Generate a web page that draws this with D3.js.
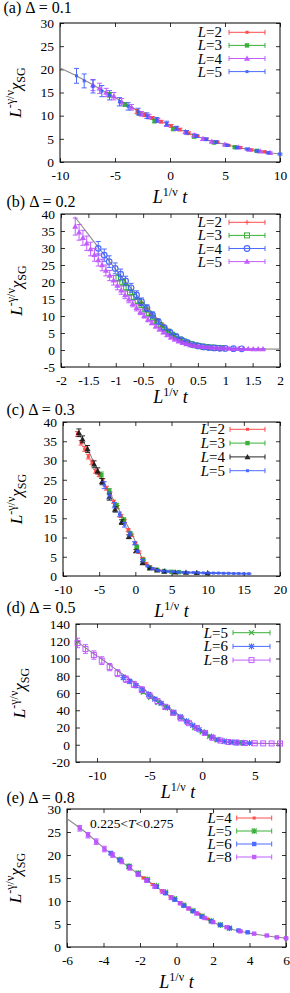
<!DOCTYPE html>
<html>
<head>
<meta charset="utf-8">
<script src="https://cdn.jsdelivr.net/npm/d3@7"></script>
<style>
  body { margin: 0; background: #fff; }
  svg { display: block; }
  svg text { font-family: "Liberation Serif", "DejaVu Serif", "Times New Roman", Times, serif; fill: #000; }
</style>
</head>
<body>
<script>
// ---- panel (a) Delta = 0.1 : [x, y, err] ----
var aCurve = [[-10,20.3],[-8.75,18.9],[-7.5,17.3],[-6.25,15.6],[-5,13.9],[-3.75,12.2],[-2.5,10.6],[-1.25,9.2],[0,8.0],[1.25,6.7],[2.5,5.5],[3.75,4.5],[5,3.8],[6.25,3.1],[7.5,2.6],[8.75,2.1],[10,1.7]];
var aL2 = [[-3.0,10.9,0.4],[-2.3,10.2,0.4],[-1.6,9.5,0.3],[-0.8,8.7,0.3],[0.1,7.8,0.3],[0.9,7.0,0.3],[1.7,6.2,0.3],[2.5,5.6,0.2],[3.3,4.9,0.2],[4.3,4.3,0.2],[5.3,3.6,0.2],[6.4,3.1,0.2],[7.4,2.6,0.2],[8.6,2.2,0.2]];
var aL3 = [[-5.5,14.5,0.5],[-4.1,12.4,0.4],[-2.8,10.5,0.4],[-1.4,8.8,0.3],[0.3,7.1,0.3],[2.2,5.5,0.3],[4.0,4.2,0.2],[5.9,3.2,0.2],[7.9,2.4,0.2]];
var aL4 = [[-7.0,16.6,1.2],[-6.4,15.9,1.1],[-5.8,15.0,0.9],[-5.1,14.2,0.8],[-4.4,13.0,0.7],[-3.5,11.8,0.6],[-2.6,10.4,0.5],[-1.9,9.8,0.5],[-1.1,9.0,0.4],[-0.3,8.1,0.4],[0.6,7.2,0.4],[1.4,6.5,0.3],[2.2,5.8,0.3],[3.0,5.0,0.3],[3.8,4.4,0.2],[5.0,3.8,0.2],[6.2,3.2,0.2],[7.2,2.7,0.2],[8.2,2.3,0.2],[9.1,2.0,0.2]];
var aL5 = [[-8.5,18.6,1.6],[-7.8,17.5,1.5],[-7.0,16.3,1.4],[-6.2,15.3,1.2],[-5.5,14.4,1.0],[-4.6,13.0,0.9],[-3.8,12.0,0.8],[-2.9,10.9,0.7],[-2.1,10.0,0.6],[-1.2,9.1,0.5],[-0.3,8.3,0.5],[0.6,7.3,0.4],[1.5,6.4,0.4],[2.4,5.6,0.3],[3.3,4.9,0.3],[4.2,4.3,0.3],[5.2,3.6,0.2],[6.1,3.1,0.2],[7.0,2.8,0.2],[7.9,2.4,0.2],[8.9,2.0,0.2],[10.0,1.7,0.2]];
var aXTicks = [-10,-5,0,5,10];
var aYTicks = [0,5,10,15,20,25,30];

// ---- panel (b) Delta = 0.2 ----
var bCurve = [[-1.75,39.2],[-1.5,34.0],[-1.25,28.8],[-1.0,23.7],[-0.75,18.7],[-0.5,14.0],[-0.25,9.3],[0,5.2],[0.25,2.5],[0.5,1.2],[0.75,0.7],[1.0,0.45],[1.5,0.3],[2.0,0.25]];
var bL2 = [[-0.55,13.6,0.4],[-0.45,12.0,0.4],[-0.35,10.4,0.3],[-0.25,8.8,0.3],[-0.15,7.3,0.3],[-0.05,5.9,0.2],[0.05,4.6,0.2],[0.15,3.5,0.2],[0.25,2.6,0.2],[0.35,1.9,0.1],[0.45,1.4,0.1]];
var bL3 = [[-0.95,21.2,0.9],[-0.88,19.9,0.8],[-0.81,18.4,0.8],[-0.74,16.9,0.7],[-0.67,15.6,0.7],[-0.60,14.4,0.6],[-0.53,13.2,0.6],[-0.46,11.9,0.5],[-0.39,10.7,0.5],[-0.32,9.5,0.4],[-0.25,8.4,0.4],[-0.18,7.3,0.3],[-0.11,6.3,0.3],[-0.04,5.4,0.3],[0.03,4.5,0.2],[0.10,3.8,0.2],[0.17,3.1,0.2],[0.24,2.6,0.2],[0.31,2.1,0.2],[0.38,1.7,0.1],[0.45,1.4,0.1],[0.52,1.2,0.1],[0.59,1.0,0.1],[0.66,0.85,0.1],[0.73,0.75,0.1],[0.80,0.65,0.1],[0.87,0.6,0.1],[0.94,0.55,0.1]];
var bL4 = [[-1.32,29.9,2.0],[-1.21,27.9,1.8],[-1.12,26.0,1.7],[-1.01,24.0,1.6],[-0.91,22.3,1.5],[-0.82,20.3,1.4],[-0.72,18.3,1.3],[-0.62,16.2,1.2],[-0.53,14.2,1.1],[-0.43,12.3,1.0],[-0.33,10.3,0.9],[-0.22,8.3,0.8],[-0.12,6.6,0.7],[-0.01,5.2,0.6],[0.1,4.0,0.5],[0.2,3.0,0.4],[0.3,2.2,0.3],[0.4,1.6,0.3],[0.5,1.2,0.2],[0.6,0.9,0.2],[0.7,0.7,0.2],[0.8,0.6,0.1],[0.9,0.5,0.1],[1.0,0.45,0.1],[1.15,0.4,0.1],[1.3,0.35,0.1]];
var bL5 = [[-1.74,36.3,2.5],[-1.67,34.6,2.3],[-1.60,33.0,2.2],[-1.53,31.4,2.1],[-1.46,29.7,2.0],[-1.39,28.0,1.9],[-1.32,26.5,1.8],[-1.25,25.0,1.7],[-1.18,23.4,1.6],[-1.11,21.9,1.5],[-1.04,20.5,1.4],[-0.97,19.0,1.3],[-0.90,17.6,1.2],[-0.83,16.2,1.1],[-0.76,14.9,1.0],[-0.69,13.6,0.9],[-0.62,12.4,0.9],[-0.55,11.2,0.8],[-0.48,10.1,0.7],[-0.41,9.0,0.7],[-0.34,8.0,0.6],[-0.27,7.0,0.5],[-0.20,6.1,0.5],[-0.13,5.2,0.4],[-0.06,4.4,0.4],[0.01,3.7,0.3],[0.08,3.1,0.3],[0.15,2.6,0.3],[0.22,2.1,0.2],[0.29,1.8,0.2],[0.36,1.5,0.2],[0.43,1.3,0.2],[0.50,1.1,0.2],[0.57,1.0,0.2],[0.64,0.9,0.1],[0.71,0.8,0.1],[0.78,0.7,0.1],[0.85,0.6,0.1],[0.92,0.55,0.1],[0.99,0.5,0.1],[1.07,0.45,0.1],[1.15,0.4,0.1],[1.24,0.4,0.1],[1.33,0.35,0.1],[1.42,0.35,0.1],[1.51,0.3,0.1],[1.60,0.3,0.1],[1.69,0.3,0.1]];
var bXTicks = [-2,-1.5,-1,-0.5,0,0.5,1,1.5,2];
var bYTicks = [-5,0,5,10,15,20,25,30,35,40];

// ---- panel (c) Delta = 0.3 ----
var cCurve = [[-8,37.6],[-7,34.3],[-6,30.6],[-5,26.8],[-4,23.1],[-3,19.7],[-2,16.3],[-1,12.8],[0,9.0],[0.5,6.5],[1,4.4],[1.5,3.1],[2,2.3],[3,1.6],[4,1.3],[6,1.0],[10,0.8],[15.8,0.6]];
var cL2 = [[-8.0,36.9,0.6],[-7.5,34.6,0.6],[-7.0,33.0,0.6],[-6.5,31.0,0.6],[-6.0,29.5,0.6],[-5.5,27.2,0.5],[-5.0,26.3,0.5],[-4.5,24.8,0.5],[-4.0,22.8,0.5],[-3.5,21.3,0.5],[-3.0,19.3,0.4],[-2.5,17.9,0.4],[-2.0,15.6,0.4],[-1.5,14.2,0.4],[-1.0,11.9,0.4],[-0.5,10.6,0.3],[0.0,8.5,0.3],[0.5,6.2,0.3],[1.0,4.6,0.2],[1.5,3.2,0.2],[2.0,2.4,0.2],[2.6,1.8,0.1],[3.2,1.5,0.1]];
var cL3 = [[-4.7,26.2,0.8],[-3.6,22.0,0.7],[-2.6,18.3,0.6],[-1.6,14.6,0.5],[-0.7,11.0,0.4],[0.2,7.6,0.3],[1.1,4.2,0.2],[2.0,2.2,0.2],[3.0,1.6,0.1],[4.0,1.3,0.1],[5.0,1.1,0.1],[6.0,1.0,0.1]];
var cL4 = [[-7.8,37.2,1.0],[-7.3,35.5,0.9],[-6.6,33.0,0.9],[-5.7,29.0,0.9],[-5.2,27.3,0.8],[-4.6,24.5,0.8],[-3.6,20.5,0.8],[-2.8,17.3,0.7],[-1.9,14.0,0.6],[-0.9,10.2,0.5],[0.1,6.5,0.4],[1.0,3.4,0.3],[2.0,2.0,0.2],[3.0,1.5,0.1],[4.0,1.2,0.1],[5.5,1.0,0.1],[7.0,0.9,0.1],[8.5,0.85,0.1],[10.0,0.8,0.1]];
var cL5 = [[-4.3,23.6,0.9],[-3.6,21.0,0.8],[-2.9,18.4,0.7],[-2.2,16.0,0.6],[-1.5,13.3,0.6],[-0.8,10.9,0.5],[-0.1,8.5,0.4],[0.3,6.4,0.3],[1.0,4.0,0.3],[1.7,2.6,0.2],[2.4,1.9,0.2],[3.1,1.5,0.1],[3.8,1.3,0.1],[4.5,1.2,0.1],[5.2,1.1,0.1],[5.9,1.0,0.1],[6.6,0.95,0.1],[7.3,0.9,0.1],[8.0,0.9,0.1],[8.7,0.85,0.1],[9.4,0.8,0.1],[10.1,0.8,0.1],[10.8,0.75,0.1],[11.5,0.75,0.1],[12.2,0.7,0.1],[12.9,0.7,0.1],[13.6,0.65,0.1],[14.3,0.65,0.1],[15.0,0.6,0.1],[15.7,0.6,0.1]];
var cXTicks = [-10,-5,0,5,10,15,20];
var cYTicks = [0,5,10,15,20,25,30,35,40];

// ---- panel (d) Delta = 0.5 ----
var dCurve = [[-12,120.5],[-11,111.5],[-10,103],[-9,94.5],[-8,85.5],[-7,77],[-6,68.5],[-5,59.5],[-4,50.5],[-3,41.5],[-2,32.5],[-1,23.5],[0,15.5],[0.5,11.5],[1,8.0],[1.5,5.6],[2,4.0],[3,2.6],[4,2.0],[5,1.7],[6,1.5],[7.4,1.4]];
var dL5 = [[-5.6,61,1.5],[-4.9,55,1.4],[-4.2,49,1.3],[-3.5,43.5,1.2],[-2.8,37,1.1],[-2.1,31.5,1.0],[-1.4,26,0.9],[-0.7,20,0.8],[0.0,15,0.7],[0.7,9.8,0.6],[1.4,6.0,0.5],[2.1,3.9,0.4],[2.8,2.9,0.3],[3.5,2.4,0.3]];
var dL6 = [[-7.5,78,2.5],[-6.9,73.5,2.3],[-6.3,68.5,2.1],[-5.7,63.5,1.9],[-5.1,58.5,1.7],[-4.5,53,1.6],[-3.9,48,1.5],[-3.3,43,1.4],[-2.7,37.5,1.3],[-2.1,32.5,1.2],[-1.5,27.5,1.1],[-0.9,22.5,1.0],[-0.3,17.5,0.9],[0.3,13.5,0.8],[0.9,9.0,0.7],[1.5,5.8,0.6],[2.1,4.0,0.5],[2.7,3.1,0.4],[3.3,2.6,0.3],[3.9,2.3,0.3],[4.5,2.0,0.3]];
var dL8 = [[-11.85,118,5.5],[-11.1,111,5],[-10.3,104,4.8],[-9.55,97.5,4.5],[-8.8,90,4.2],[-8.05,83,4],[-7.25,76,3.7],[-6.5,70,3.5],[-5.75,64,3.2],[-5.0,57,3.0],[-4.25,50.5,2.7],[-3.5,44,2.5],[-2.75,37,2.2],[-2.0,30.5,2.0],[-1.25,25,1.8],[-0.5,19.5,1.6],[0.25,13.8,1.4],[1.0,8.0,1.2],[1.75,4.8,1.0],[2.5,3.2,0.8],[3.25,2.5,0.6],[4.0,2.0,0.5],[5.0,1.7,0.4],[5.8,1.6,0.3],[6.6,1.5,0.3],[7.4,1.4,0.3]];
var dXTicks = [-10,-5,0,5];
var dYTicks = [-20,0,20,40,60,80,100,120,140];

// ---- panel (e) Delta = 0.8 ----
var eCurve = [[-6,27.9],[-5,25.0],[-4,21.6],[-3,18.5],[-2,15.6],[-1,12.8],[0,10.1],[1,7.6],[2,5.4],[3,3.9],[4,3.0],[5,2.4],[6,1.9]];
var eL4 = [[-1.8,15.0,0.2],[-1.3,13.6,0.2],[-0.8,12.2,0.2],[-0.3,10.9,0.2],[0.2,9.6,0.2],[0.7,8.3,0.2],[1.2,7.2,0.1],[1.7,6.1,0.1]];
var eL5 = [[-3.1,19.0,0.3],[-2.6,17.6,0.3],[-2.1,16.1,0.3],[-1.6,14.7,0.3],[-1.1,13.3,0.2],[-0.6,11.9,0.2],[-0.1,10.5,0.2],[0.4,9.1,0.2],[0.9,7.9,0.2],[1.4,6.7,0.2],[1.9,5.7,0.1],[2.4,4.8,0.1],[2.9,4.1,0.1]];
var eL6 = [[-3.6,20.4,0.4],[-3.1,18.9,0.4],[-2.6,17.4,0.4],[-2.1,15.9,0.3],[-1.6,14.5,0.3],[-1.1,13.1,0.3],[-0.6,11.7,0.3],[-0.1,10.3,0.3],[0.4,9.0,0.2],[0.9,7.8,0.2],[1.4,6.6,0.2],[1.9,5.6,0.2],[2.4,4.8,0.2],[2.9,4.1,0.1],[3.4,3.6,0.1],[3.9,3.2,0.1]];
var eL8 = [[-5.3,25.8,0.6],[-4.85,24.3,0.6],[-4.4,22.9,0.6],[-3.95,21.3,0.6],[-3.5,20.0,0.5],[-3.0,18.6,0.5],[-2.55,17.2,0.5],[-2.1,15.8,0.5],[-1.65,14.5,0.4],[-1.2,13.2,0.4],[-0.75,12.0,0.4],[-0.3,10.7,0.4],[0.2,9.5,0.3],[0.65,8.4,0.3],[1.1,7.3,0.3],[1.55,6.3,0.3],[2.0,5.4,0.2],[2.75,4.3,0.2],[3.5,3.4,0.2],[4.25,2.9,0.1],[4.95,2.5,0.1],[5.5,2.1,0.1],[6.0,1.9,0.1]];
var eXTicks = [-6,-4,-2,0,2,4,6];
var eYTicks = [0,5,10,15,20,25,30];

var RED = "#ff3a3a", GREEN = "#26a826", VIOLET = "#bb4dff", BLUE = "#3a5cff", BLACK = "#111";
var SERIF = "'Liberation Serif', 'DejaVu Serif', 'Times New Roman', Times, serif";

var svg = d3.select("body").append("svg").attr("width", 290).attr("height", 993)
    .attr("font-family", SERIF);

// one point marker
function marker(g, type, cx, cy, col) {
    if (type === "dot") {
        g.append("rect").attr("x", cx - 1.5).attr("y", cy - 1.5).attr("width", 3).attr("height", 3).attr("fill", col);
    } else if (type === "fsq") {
        g.append("rect").attr("x", cx - 2.2).attr("y", cy - 2.2).attr("width", 4.4).attr("height", 4.4).attr("fill", col);
    } else if (type === "osq") {
        g.append("rect").attr("x", cx - 2.5).attr("y", cy - 2.5).attr("width", 5).attr("height", 5)
            .attr("fill", "none").attr("stroke", col).attr("stroke-width", 1);
    } else if (type === "ocirc") {
        g.append("circle").attr("cx", cx).attr("cy", cy).attr("r", 2.8)
            .attr("fill", "none").attr("stroke", col).attr("stroke-width", 1.2);
    } else if (type === "ftri") {
        g.append("path").attr("d", d3.symbol(d3.symbolTriangle, 16)()).attr("transform", "translate(" + cx + "," + (cy + 0.5) + ")").attr("fill", col);
    } else if (type === "plus") {
        g.append("path").attr("d", "M" + (cx - 2.5) + "," + cy + "h5M" + cx + "," + (cy - 2.5) + "v5").attr("stroke", col).attr("stroke-width", 1);
    } else if (type === "x") {
        g.append("path").attr("d", "M" + (cx - 2.5) + "," + (cy - 2.5) + "l5,5M" + (cx - 2.5) + "," + (cy + 2.5) + "l5,-5").attr("stroke", col).attr("stroke-width", 1.2);
    } else if (type === "star") {
        g.append("path").attr("d", "M" + (cx - 2.5) + "," + (cy - 2.5) + "l5,5M" + (cx - 2.5) + "," + (cy + 2.5) + "l5,-5M" + (cx - 3) + "," + cy + "h6M" + cx + "," + (cy - 3) + "v6")
            .attr("stroke", col).attr("stroke-width", 1.1);
    }
}

function drawPanel(p) {
    var x = d3.scaleLinear().domain(p.xd).range([p.l, p.r]);
    var y = d3.scaleLinear().domain(p.yd).range([p.b, p.t]);
    var g = svg.append("g");

    var fmt = function (d) { return String(d); };
    g.append("g").attr("transform", "translate(0," + p.b + ")")
        .call(d3.axisBottom(x).tickValues(p.xt).tickSizeInner(-4).tickSizeOuter(0).tickPadding(8).tickFormat(fmt));
    g.append("g").attr("transform", "translate(" + p.l + ",0)")
        .call(d3.axisLeft(y).tickValues(p.yt).tickSizeInner(-4).tickSizeOuter(0).tickPadding(6).tickFormat(fmt));
    g.append("g").attr("transform", "translate(0," + p.t + ")")
        .call(d3.axisTop(x).tickValues(p.xt).tickSizeInner(-4).tickSizeOuter(0).tickFormat(""));
    g.append("g").attr("transform", "translate(" + p.r + ",0)")
        .call(d3.axisRight(y).tickValues(p.yt).tickSizeInner(-4).tickSizeOuter(0).tickFormat(""));
    g.selectAll(".domain").remove();
    g.selectAll("g").attr("font-family", SERIF).attr("font-size", 13.5);
    g.selectAll(".tick line").attr("stroke", "#000").attr("stroke-width", 0.8);
    g.selectAll(".tick text").attr("fill", "#000");

    g.append("rect").attr("x", p.l).attr("y", p.t).attr("width", p.r - p.l).attr("height", p.b - p.t)
        .attr("fill", "none").attr("stroke", "#000").attr("stroke-width", 1);

    // scaling curve
    g.append("path").datum(p.curve)
        .attr("d", d3.line().curve(d3.curveMonotoneX).x(function (d) { return x(d[0]); }).y(function (d) { return y(d[1]); }))
        .attr("fill", "none").attr("stroke", "#8a8a8a").attr("stroke-width", 1.1);

    // data with error bars
    p.series.forEach(function (s) {
        var sg = g.append("g").attr("opacity", 0.9);
        s.data.forEach(function (d) {
            var cx = x(d[0]), y0 = y(d[1] - d[2]), y1 = y(d[1] + d[2]);
            sg.append("path").attr("d", "M" + cx + "," + y0 + "V" + y1 + "M" + (cx - 2.5) + "," + y0 + "h5M" + (cx - 2.5) + "," + y1 + "h5")
                .attr("stroke", s.color).attr("stroke-width", 1).attr("fill", "none");
            marker(sg, s.mark, cx, y(d[1]), s.color);
        });
    });

    // legend
    p.series.forEach(function (s, i) {
        var ry = p.legY + i * p.legDy;
        var t = g.append("text").attr("x", p.legTx).attr("y", ry + 5).attr("text-anchor", "end").attr("font-size", 15);
        t.append("tspan").attr("font-style", "italic").text("L");
        t.append("tspan").text("=" + s.name);
        var lg = g.append("g").attr("opacity", 0.9);
        lg.append("path").attr("d", "M" + p.legX1 + "," + ry + "H" + p.legX2 + "M" + p.legX1 + "," + (ry - 2.5) + "v5M" + p.legX2 + "," + (ry - 2.5) + "v5")
            .attr("stroke", s.color).attr("stroke-width", 1).attr("fill", "none");
        marker(lg, s.mark, (p.legX1 + p.legX2) / 2, ry, s.color);
    });

    // panel title
    svg.append("text").attr("x", p.titleX).attr("y", p.titleY).attr("font-size", 16).text(p.title);

    // x label
    var xl = svg.append("text").attr("x", (p.l + p.r) / 2).attr("y", p.xlabY).attr("text-anchor", "middle").attr("font-size", 18);
    xl.append("tspan").attr("font-style", "italic").text("L");
    xl.append("tspan").attr("dy", -6.5).attr("font-size", 12).text("1/ν");
    xl.append("tspan").attr("dy", 6.5).attr("font-style", "italic").text(" t");

    // y label
    var yc = (p.t + p.b) / 2;
    var yl = svg.append("text").attr("transform", "translate(" + p.ylabX + "," + yc + ") rotate(-90)")
        .attr("text-anchor", "middle").attr("font-size", 17);
    yl.append("tspan").attr("font-style", "italic").text("L");
    yl.append("tspan").attr("dy", -7).attr("font-size", 12).text("-γ/ν");
    yl.append("tspan").attr("dy", 7).attr("font-style", "italic").text("χ");
    yl.append("tspan").attr("dy", 4).attr("font-size", 12).text("SG");

    if (p.note) {
        var n = svg.append("text").attr("x", p.note.x).attr("y", p.note.y).attr("font-size", 13.5);
        n.append("tspan").text("0.225<");
        n.append("tspan").attr("font-style", "italic").text("T");
        n.append("tspan").text("<0.275");
    }
}

drawPanel({
    title: "(a) Δ = 0.1", titleX: 3.5, titleY: 13,
    l: 60, r: 280, t: 23, b: 162, xd: [-10, 10], yd: [0, 30], xt: aXTicks, yt: aYTicks,
    xlabY: 202.5, ylabX: 21, curve: aCurve,
    legY: 32.3, legDy: 13.1, legTx: 222, legX1: 229, legX2: 265,
    series: [
        { name: "2", data: aL2, color: RED, mark: "dot" },
        { name: "3", data: aL3, color: GREEN, mark: "fsq" },
        { name: "4", data: aL4, color: VIOLET, mark: "ftri" },
        { name: "5", data: aL5, color: BLUE, mark: "dot" }
    ]
});

drawPanel({
    title: "(b) Δ = 0.2", titleX: 6.5, titleY: 206.5,
    l: 61, r: 280, t: 214, b: 367, xd: [-2, 2], yd: [-5, 40], xt: bXTicks, yt: bYTicks,
    xlabY: 402.5, ylabX: 22, curve: bCurve,
    legY: 222.3, legDy: 13.1, legTx: 222, legX1: 229, legX2: 265,
    series: [
        { name: "2", data: bL2, color: RED, mark: "plus" },
        { name: "3", data: bL3, color: GREEN, mark: "osq" },
        { name: "4", data: bL4, color: BLUE, mark: "ocirc" },
        { name: "5", data: bL5, color: VIOLET, mark: "ftri" }
    ]
});

drawPanel({
    title: "(c) Δ = 0.3", titleX: 6.5, titleY: 414.5,
    l: 63, r: 280, t: 422, b: 576, xd: [-10, 20], yd: [0, 40], xt: cXTicks, yt: cYTicks,
    xlabY: 616.5, ylabX: 22, curve: cCurve,
    legY: 429.3, legDy: 13.8, legTx: 225, legX1: 230, legX2: 265,
    series: [
        { name: "2", data: cL2, color: RED, mark: "dot" },
        { name: "3", data: cL3, color: GREEN, mark: "fsq" },
        { name: "4", data: cL4, color: BLACK, mark: "ftri" },
        { name: "5", data: cL5, color: BLUE, mark: "dot" }
    ]
});

drawPanel({
    title: "(d) Δ = 0.5", titleX: 6.5, titleY: 612.5,
    l: 76, r: 280, t: 624, b: 762, xd: [-12, 7.4], yd: [-20, 140], xt: dXTicks, yt: dYTicks,
    xlabY: 797.5, ylabX: 25, curve: dCurve,
    legY: 632.7, legDy: 13.7, legTx: 228, legX1: 233, legX2: 270,
    series: [
        { name: "5", data: dL5, color: GREEN, mark: "x" },
        { name: "6", data: dL6, color: BLUE, mark: "star" },
        { name: "8", data: dL8, color: VIOLET, mark: "osq" }
    ]
});

drawPanel({
    title: "(e) Δ = 0.8", titleX: 6.5, titleY: 802.5,
    l: 67, r: 286, t: 809, b: 947, xd: [-6, 6], yd: [0, 30], xt: eXTicks, yt: eYTicks,
    xlabY: 987.5, ylabX: 21, curve: eCurve,
    legY: 818, legDy: 13, legTx: 231.7, legX1: 236.7, legX2: 271.7,
    note: { x: 90, y: 828 },
    series: [
        { name: "4", data: eL4, color: RED, mark: "dot" },
        { name: "5", data: eL5, color: GREEN, mark: "star" },
        { name: "6", data: eL6, color: BLUE, mark: "fsq" },
        { name: "8", data: eL8, color: VIOLET, mark: "fsq" }
    ]
});
</script>
</body>
</html>
